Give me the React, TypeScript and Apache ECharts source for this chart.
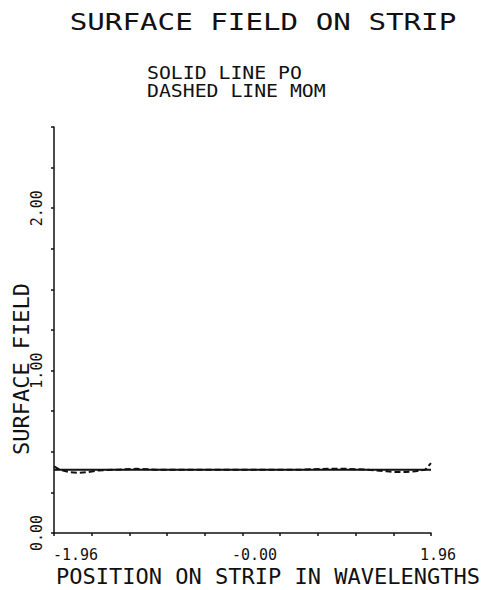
import React, { useEffect, useRef } from 'react';
import * as echarts from 'echarts';

const TITLE = 'SURFACE FIELD ON STRIP';
const SUBTITLE_1 = 'SOLID LINE PO';
const SUBTITLE_2 = 'DASHED LINE MOM';
const X_NAME = 'POSITION ON STRIP IN WAVELENGTHS';
const Y_NAME = 'SURFACE FIELD';

// x tick labels shown at tick indices 0, 5, 10
const xTickLabels = ['-1.96', '-0.00', '1.96'];
const xLabelTickIndex = [0, 5, 10];

// Physical optics (solid)
const poX = [-1.96, -1.0, 0.0, 1.0, 1.96];
const poY = [0.39, 0.39, 0.39, 0.39, 0.39];

// Method of moments (dashed)
const momX = [-1.96, -1.9, -1.8, -1.7, -1.6, -1.5, -1.3, -1.1, -0.9, -0.6, -0.3, 0.0, 0.3, 0.6, 0.9, 1.1, 1.3, 1.5, 1.6, 1.7, 1.8, 1.9, 1.96];
const momY = [0.41, 0.39, 0.375, 0.37, 0.375, 0.385, 0.39, 0.395, 0.39, 0.39, 0.39, 0.39, 0.39, 0.39, 0.395, 0.395, 0.39, 0.38, 0.375, 0.375, 0.38, 0.39, 0.43];

const FONT = 'DejaVu Sans Mono';
const INK = '#111';

export default function App() {
  const ref = useRef<HTMLDivElement>(null);
  useEffect(() => {
    if (!ref.current) return;
    const chart = echarts.init(ref.current, undefined, { renderer: 'svg' });
    const richBase = { fontFamily: FONT, fontSize: 15, lineHeight: 15, color: INK };
    const option: any = {
      animation: false,
      backgroundColor: '#fff',
      grid: { left: 54, right: 55, top: 127, bottom: 57 },
      xAxis: {
        type: 'value',
        min: -1.96,
        max: 1.96,
        interval: 0.392,
        splitLine: { show: false },
        axisLine: { onZero: false, lineStyle: { color: INK, width: 1.5 } },
        axisTick: { show: true, length: 3, lineStyle: { color: INK, width: 1.5 } },
        axisLabel: {
          margin: 14,
          fontFamily: FONT,
          fontSize: 15,
          lineHeight: 15,
          color: INK,
          formatter: (_v: number, i: number) => {
            const k = xLabelTickIndex.indexOf(i);
            if (k < 0) return '';
            return `{p${k}|${xTickLabels[k]}}`;
          },
          rich: {
            p0: { ...richBase, padding: [0, 0, 0, 43] },
            p1: { ...richBase, padding: [0, 0, 0, 24] },
            p2: { ...richBase, padding: [0, 0, 0, 14] },
          },
        },
      },
      yAxis: {
        type: 'value',
        min: 0,
        max: 2.5,
        interval: 0.25,
        splitLine: { show: false },
        axisLine: { show: true, onZero: false, lineStyle: { color: INK, width: 1.5 } },
        axisTick: { show: true, length: 3, lineStyle: { color: INK, width: 1.5 } },
        axisLabel: {
          rotate: 90,
          margin: 10,
          fontFamily: FONT,
          fontSize: 15,
          color: INK,
          formatter: (v: number) => (Math.abs(v - Math.round(v)) < 1e-9 ? v.toFixed(2) : ''),
        },
      },
      series: [
        {
          name: 'PO',
          type: 'line',
          showSymbol: false,
          data: poX.map((x, i) => [x, poY[i]]),
          lineStyle: { color: INK, width: 2 },
        },
        {
          name: 'MOM',
          type: 'line',
          showSymbol: false,
          data: momX.map((x, i) => [x, momY[i]]),
          lineStyle: { color: INK, width: 2, type: [6, 3] },
        },
      ],
      graphic: [
        {
          type: 'text',
          x: 263,
          y: 22,
          scaleX: 1.27,
          style: { text: TITLE, fontFamily: FONT, fontSize: 23, fill: INK, align: 'center', verticalAlign: 'middle' },
        },
        {
          type: 'text',
          x: 147,
          y: 72,
          scaleX: 1.1,
          style: { text: SUBTITLE_1, fontFamily: FONT, fontSize: 18, fill: INK, align: 'left', verticalAlign: 'middle' },
        },
        {
          type: 'text',
          x: 147,
          y: 90,
          scaleX: 1.1,
          style: { text: SUBTITLE_2, fontFamily: FONT, fontSize: 18, fill: INK, align: 'left', verticalAlign: 'middle' },
        },
        {
          type: 'text',
          x: 268,
          y: 576,
          style: { text: X_NAME, fontFamily: FONT, fontSize: 22, lineHeight: 22, fill: INK, align: 'center', verticalAlign: 'middle' },
        },
        {
          type: 'text',
          x: 21,
          y: 369,
          rotation: Math.PI / 2,
          style: { text: Y_NAME, fontFamily: FONT, fontSize: 22, fill: INK, align: 'center', verticalAlign: 'middle' },
        },
      ],
    };
    chart.setOption(option);
    return () => chart.dispose();
  }, []);
  return (
    <div
      ref={ref}
      style={{ position: 'fixed', left: 0, top: 0, width: 486, height: 590, background: '#fff' }}
    />
  );
}
